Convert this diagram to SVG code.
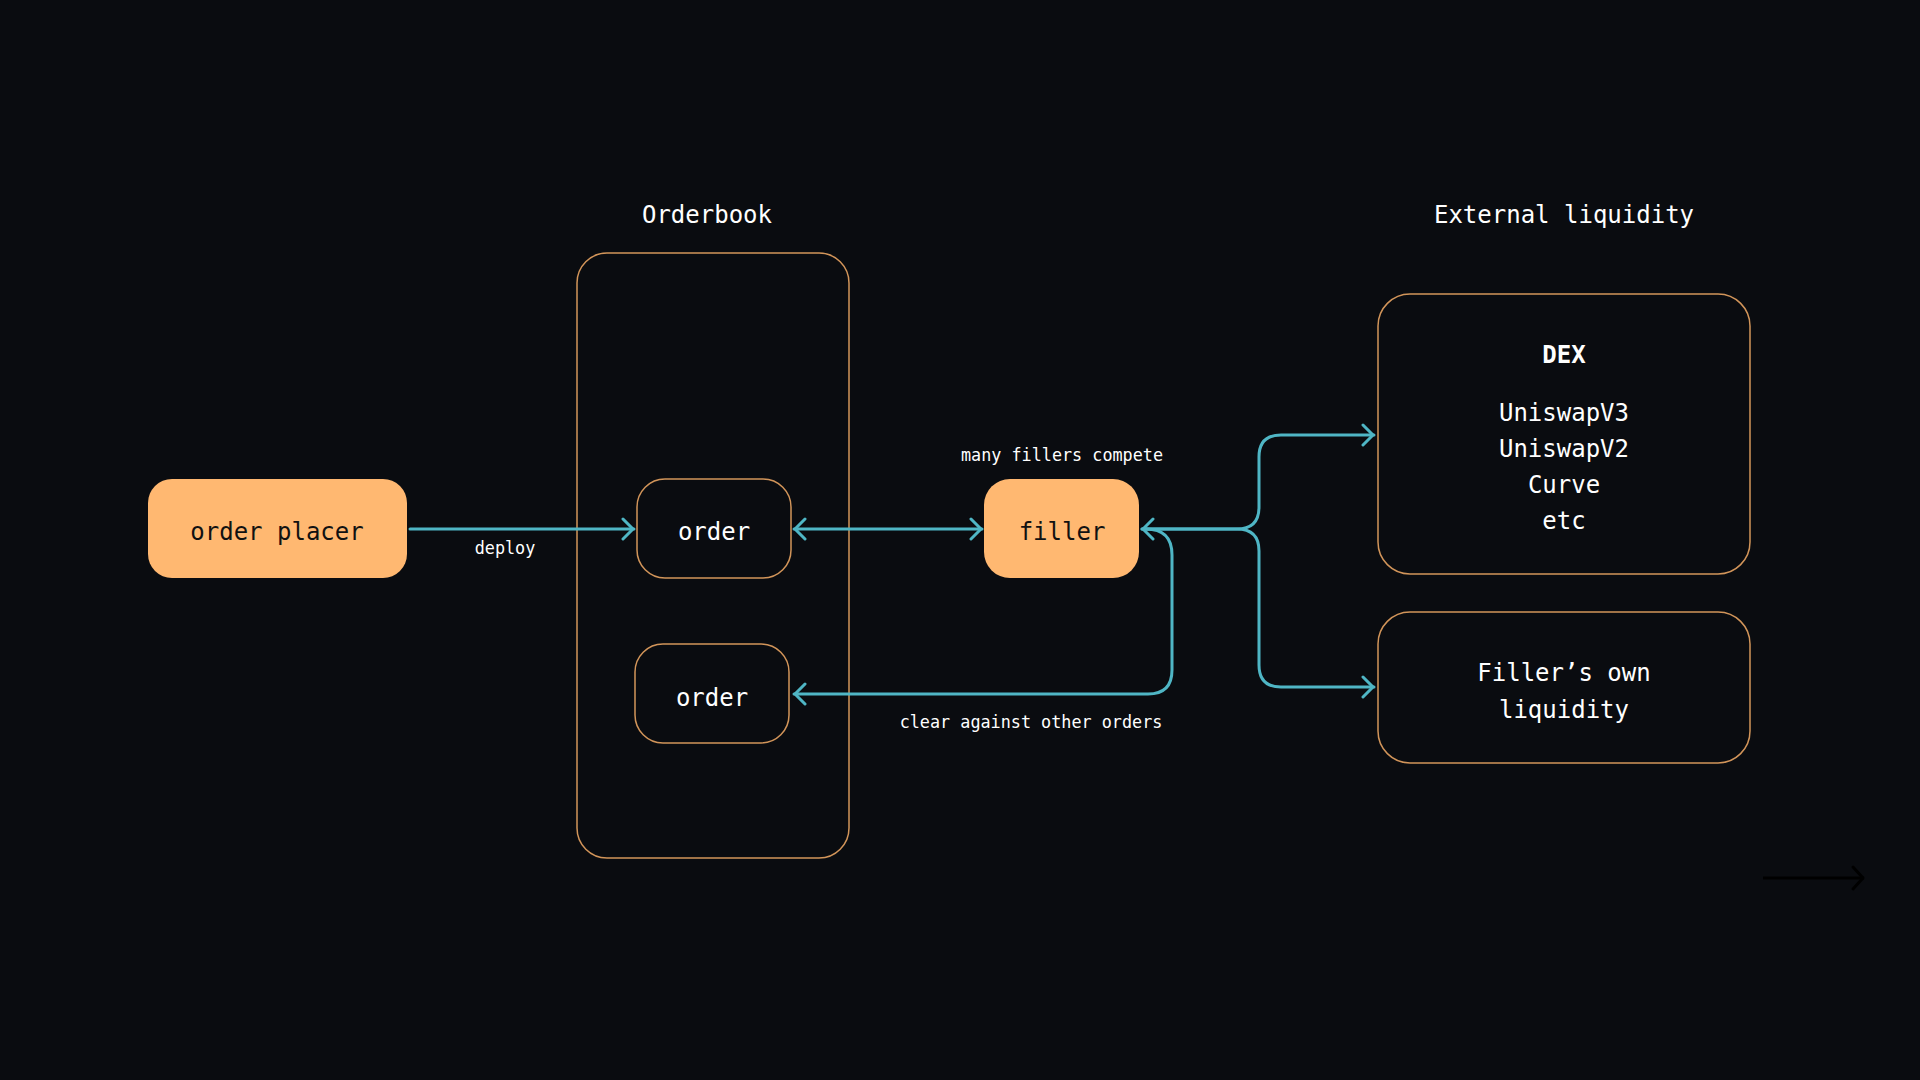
<svg xmlns="http://www.w3.org/2000/svg" width="1920" height="1080" viewBox="0 0 1920 1080">
<defs>
<style>
.bg{fill:#0a0c10}
.box{fill:#0a0c10;stroke:#d2955a;stroke-width:1.5}
.solid{fill:#ffb871}
.t{font-family:"DejaVu Sans Mono","Liberation Mono",monospace;text-anchor:middle;dominant-baseline:central}
.w{fill:#ffffff}
.d{fill:#111111}
.big{font-size:24px}
.sm{font-size:16.8px}
.con{fill:none;stroke:#4fb6c5;stroke-width:3;stroke-linecap:round;stroke-linejoin:round}
</style>
<marker id="arr" viewBox="-14 -12 16 24" refX="0" refY="0" markerWidth="16" markerHeight="24" markerUnits="userSpaceOnUse" orient="auto-start-reverse">
<path d="M -11 -10 L -1 0 L -11 10" fill="none" stroke="#4fb6c5" stroke-width="3" stroke-linecap="round" stroke-linejoin="round"/>
</marker>
<marker id="arrk" viewBox="-14 -14 16 28" refX="0" refY="0" markerWidth="16" markerHeight="28" markerUnits="userSpaceOnUse" orient="auto">
<path d="M -11 -11 L -1 0 L -11 11" fill="none" stroke="#000000" stroke-width="3" stroke-linecap="round" stroke-linejoin="round"/>
</marker>
</defs>
<rect class="bg" x="0" y="0" width="1920" height="1080"/>

<g id="orderbook">
<rect class="box" x="577" y="253" width="272" height="605" rx="30"/>
<text class="t w big" x="707" y="215">Orderbook</text>
</g>

<g id="external-liquidity-label">
<text class="t w big" x="1564" y="215">External liquidity</text>
</g>

<g id="connectors">
<path class="con" d="M 410 529 H 634" marker-end="url(#arr)"/>
<text class="t w sm" x="505" y="548">deploy</text>
<path class="con" d="M 794 529 H 982" marker-start="url(#arr)" marker-end="url(#arr)"/>
<text class="t w sm" x="1062" y="455">many fillers compete</text>
<path class="con" d="M 1142 529 H 1237 Q 1259 529 1259 507 V 457 Q 1259 435 1281 435 H 1374" marker-start="url(#arr)" marker-end="url(#arr)"/>
<path class="con" d="M 1142 529 H 1237 Q 1259 529 1259 551 V 665 Q 1259 687 1281 687 H 1374" marker-end="url(#arr)"/>
<path class="con" d="M 1146 529 Q 1172 529 1172 555 V 670 Q 1172 694 1148 694 H 794" marker-end="url(#arr)"/>
<text class="t w sm" x="1031" y="722" font-size="17.2px">clear against other orders</text>
<path d="M 1763 878 H 1864" fill="none" stroke="#000000" stroke-width="3" marker-end="url(#arrk)"/>
</g>

<g id="order-placer">
<rect class="solid" x="148" y="479" width="259" height="99" rx="24"/>
<text class="t d big" x="277" y="531.5">order placer</text>
</g>

<g id="order-1">
<rect class="box" x="637" y="479" width="154" height="99" rx="28"/>
<text class="t w big" x="714" y="531.5">order</text>
</g>

<g id="order-2">
<rect class="box" x="635" y="644" width="154" height="99" rx="28"/>
<text class="t w big" x="712" y="697.5">order</text>
</g>

<g id="filler">
<rect class="solid" x="984" y="479" width="155" height="99" rx="26"/>
<text class="t d big" x="1062" y="531.5">filler</text>
</g>

<g id="dex">
<rect class="box" x="1378" y="294" width="372" height="280" rx="32"/>
<text class="t w big" x="1564" y="355" font-weight="bold">DEX</text>
<text class="t w big" x="1564" y="413">UniswapV3</text>
<text class="t w big" x="1564" y="449">UniswapV2</text>
<text class="t w big" x="1564" y="485">Curve</text>
<text class="t w big" x="1564" y="521">etc</text>
</g>

<g id="fillers-own-liquidity">
<rect class="box" x="1378" y="612" width="372" height="151" rx="32"/>
<text class="t w big" x="1564" y="673">Filler’s own</text>
<text class="t w big" x="1564" y="710">liquidity</text>
</g>
</svg>
